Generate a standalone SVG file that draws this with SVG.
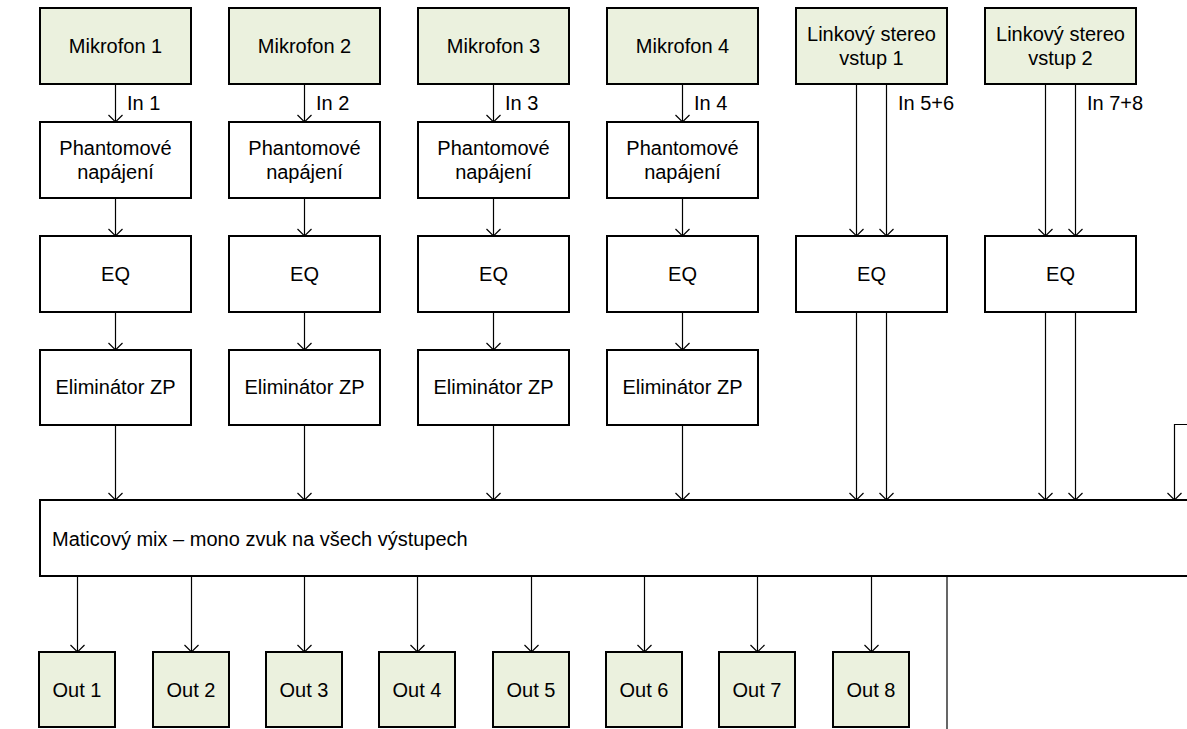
<svg xmlns="http://www.w3.org/2000/svg" width="1187" height="729" viewBox="0 0 1187 729">
<style>
.box{fill:#ffffff;stroke:#000000;stroke-width:2}
.g{fill:#EBF1DE}
.t{font-family:"Liberation Sans",Arial,sans-serif;font-size:20px;fill:#000000}
.c{text-anchor:middle}
.ln{fill:none;stroke:#000000;stroke-width:1.2}
</style>
<defs>
<marker id="ah" markerUnits="userSpaceOnUse" markerWidth="16" markerHeight="10" viewBox="-8 -9 16 10" refX="0" refY="0" orient="auto-start-reverse" overflow="visible">
<path d="M-7,-7 L0,0 L7,-7" transform="rotate(-90)" fill="none" stroke="#000000" stroke-width="1.2"/>
</marker>
</defs>
<rect width="1187" height="729" fill="#ffffff"/>
<g id="connectors">
<path class="ln" marker-end="url(#ah)" d="M115.5,84 V122"/>
<path class="ln" marker-end="url(#ah)" d="M304.5,84 V122"/>
<path class="ln" marker-end="url(#ah)" d="M493.5,84 V122"/>
<path class="ln" marker-end="url(#ah)" d="M682.5,84 V122"/>
<path class="ln" marker-end="url(#ah)" d="M115.5,198 V236"/>
<path class="ln" marker-end="url(#ah)" d="M304.5,198 V236"/>
<path class="ln" marker-end="url(#ah)" d="M493.5,198 V236"/>
<path class="ln" marker-end="url(#ah)" d="M682.5,198 V236"/>
<path class="ln" marker-end="url(#ah)" d="M115.5,312 V350"/>
<path class="ln" marker-end="url(#ah)" d="M304.5,312 V350"/>
<path class="ln" marker-end="url(#ah)" d="M493.5,312 V350"/>
<path class="ln" marker-end="url(#ah)" d="M682.5,312 V350"/>
<path class="ln" marker-end="url(#ah)" d="M115.5,425 V500"/>
<path class="ln" marker-end="url(#ah)" d="M304.5,425 V500"/>
<path class="ln" marker-end="url(#ah)" d="M493.5,425 V500"/>
<path class="ln" marker-end="url(#ah)" d="M682.5,425 V500"/>
<path class="ln" marker-end="url(#ah)" d="M856.5,84 V236"/>
<path class="ln" marker-end="url(#ah)" d="M886.5,84 V236"/>
<path class="ln" marker-end="url(#ah)" d="M1045.5,84 V236"/>
<path class="ln" marker-end="url(#ah)" d="M1075.5,84 V236"/>
<path class="ln" marker-end="url(#ah)" d="M856.5,312 V500"/>
<path class="ln" marker-end="url(#ah)" d="M886.5,312 V500"/>
<path class="ln" marker-end="url(#ah)" d="M1045.5,312 V500"/>
<path class="ln" marker-end="url(#ah)" d="M1075.5,312 V500"/>
<path class="ln" marker-end="url(#ah)" d="M1190,424.5 H1174.5 V500"/>
<path class="ln" marker-end="url(#ah)" d="M77.5,576 V652"/>
<path class="ln" marker-end="url(#ah)" d="M191.5,576 V652"/>
<path class="ln" marker-end="url(#ah)" d="M304.5,576 V652"/>
<path class="ln" marker-end="url(#ah)" d="M417.5,576 V652"/>
<path class="ln" marker-end="url(#ah)" d="M531.5,576 V652"/>
<path class="ln" marker-end="url(#ah)" d="M644.5,576 V652"/>
<path class="ln" marker-end="url(#ah)" d="M757.5,576 V652"/>
<path class="ln" marker-end="url(#ah)" d="M871.5,576 V652"/>
<path class="ln" d="M947,576 V729" stroke-width="1.5"/>
<text class="t" x="127" y="110">In 1</text>
<text class="t" x="316" y="110">In 2</text>
<text class="t" x="505" y="110">In 3</text>
<text class="t" x="694" y="110">In 4</text>
<text class="t" x="898" y="110">In 5+6</text>
<text class="t" x="1087" y="110">In 7+8</text>
</g>
<g id="mic1"><rect class="box g" x="40" y="8" width="151" height="76"/><text class="t c" x="115.5" y="53">Mikrofon 1</text></g>
<g id="mic2"><rect class="box g" x="229" y="8" width="151" height="76"/><text class="t c" x="304.5" y="53">Mikrofon 2</text></g>
<g id="mic3"><rect class="box g" x="418" y="8" width="151" height="76"/><text class="t c" x="493.5" y="53">Mikrofon 3</text></g>
<g id="mic4"><rect class="box g" x="607" y="8" width="151" height="76"/><text class="t c" x="682.5" y="53">Mikrofon 4</text></g>
<g id="line1"><rect class="box g" x="796" y="8" width="151" height="76"/><text class="t c" x="871.5" y="41">Linkový stereo</text><text class="t c" x="871.5" y="65">vstup 1</text></g>
<g id="line2"><rect class="box g" x="985" y="8" width="151" height="76"/><text class="t c" x="1060.5" y="41">Linkový stereo</text><text class="t c" x="1060.5" y="65">vstup 2</text></g>
<g id="ph1"><rect class="box" x="40" y="122" width="151" height="76"/><text class="t c" x="115.5" y="155">Phantomové</text><text class="t c" x="115.5" y="179">napájení</text></g>
<g id="ph2"><rect class="box" x="229" y="122" width="151" height="76"/><text class="t c" x="304.5" y="155">Phantomové</text><text class="t c" x="304.5" y="179">napájení</text></g>
<g id="ph3"><rect class="box" x="418" y="122" width="151" height="76"/><text class="t c" x="493.5" y="155">Phantomové</text><text class="t c" x="493.5" y="179">napájení</text></g>
<g id="ph4"><rect class="box" x="607" y="122" width="151" height="76"/><text class="t c" x="682.5" y="155">Phantomové</text><text class="t c" x="682.5" y="179">napájení</text></g>
<g id="eq1"><rect class="box" x="40" y="236" width="151" height="76"/><text class="t c" x="115.5" y="281">EQ</text></g>
<g id="eq2"><rect class="box" x="229" y="236" width="151" height="76"/><text class="t c" x="304.5" y="281">EQ</text></g>
<g id="eq3"><rect class="box" x="418" y="236" width="151" height="76"/><text class="t c" x="493.5" y="281">EQ</text></g>
<g id="eq4"><rect class="box" x="607" y="236" width="151" height="76"/><text class="t c" x="682.5" y="281">EQ</text></g>
<g id="eq5"><rect class="box" x="796" y="236" width="151" height="76"/><text class="t c" x="871.5" y="281">EQ</text></g>
<g id="eq6"><rect class="box" x="985" y="236" width="151" height="76"/><text class="t c" x="1060.5" y="281">EQ</text></g>
<g id="el1"><rect class="box" x="40" y="350" width="151" height="75"/><text class="t c" x="115.5" y="394">Eliminátor ZP</text></g>
<g id="el2"><rect class="box" x="229" y="350" width="151" height="75"/><text class="t c" x="304.5" y="394">Eliminátor ZP</text></g>
<g id="el3"><rect class="box" x="418" y="350" width="151" height="75"/><text class="t c" x="493.5" y="394">Eliminátor ZP</text></g>
<g id="el4"><rect class="box" x="607" y="350" width="151" height="75"/><text class="t c" x="682.5" y="394">Eliminátor ZP</text></g>
<g id="mix"><rect class="box" x="40" y="500" width="1160" height="76"/><text class="t" x="52" y="546">Maticový mix – mono zvuk na všech výstupech</text></g>
<g id="out1"><rect class="box g" x="39" y="652" width="76" height="75"/><text class="t c" x="77" y="697">Out 1</text></g>
<g id="out2"><rect class="box g" x="153" y="652" width="76" height="75"/><text class="t c" x="191" y="697">Out 2</text></g>
<g id="out3"><rect class="box g" x="266" y="652" width="76" height="75"/><text class="t c" x="304" y="697">Out 3</text></g>
<g id="out4"><rect class="box g" x="379" y="652" width="76" height="75"/><text class="t c" x="417" y="697">Out 4</text></g>
<g id="out5"><rect class="box g" x="493" y="652" width="76" height="75"/><text class="t c" x="531" y="697">Out 5</text></g>
<g id="out6"><rect class="box g" x="606" y="652" width="76" height="75"/><text class="t c" x="644" y="697">Out 6</text></g>
<g id="out7"><rect class="box g" x="719" y="652" width="76" height="75"/><text class="t c" x="757" y="697">Out 7</text></g>
<g id="out8"><rect class="box g" x="833" y="652" width="76" height="75"/><text class="t c" x="871" y="697">Out 8</text></g>
</svg>
